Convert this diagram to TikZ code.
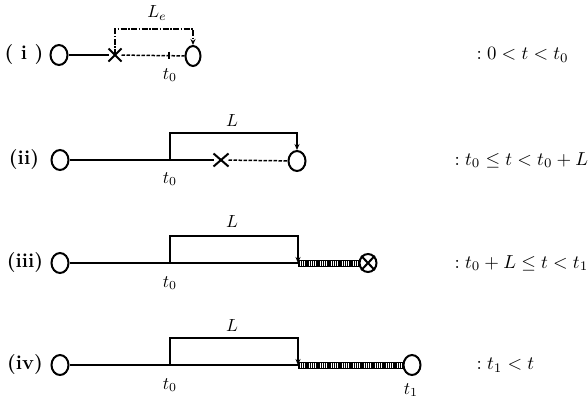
\documentclass[tikz,border=0pt]{standalone}
\usepackage{amsmath,amssymb}
\usetikzlibrary{arrows.meta}
\usetikzlibrary{patterns.meta, positioning, shapes.geometric, shapes.misc}

\tikzset{
    dot/.style={ellipse, draw, line width=2pt, minimum width=17pt, minimum height=20pt, inner sep=0pt},
    xmark/.style={cross out, draw, line width=2pt, minimum width=13pt, minimum height=11pt, inner sep=0pt},
    life/.style={line width=2.2pt},
    wait/.style={line width=1.5pt, dash pattern=on 3.5pt off 1.5pt},
    span/.style={line width=1.3pt, -{Stealth[length=6pt,width=5pt]}},
    delay/.style={span, dash pattern=on 6pt off 1.5pt on 1.5pt off 1.5pt},
    service/.style={draw, line width=0.8pt, pattern={Lines[angle=90,distance=2.2pt,line width=1.4pt]}},
    tag/.style={font=\fontsize{20}{22}\selectfont\bfseries},
    lab/.style={scale=1.75, transform shape},
    cond/.style={anchor=west, scale=1.88, transform shape},
}

\begin{document}
\begin{tikzpicture}[x=1pt, y=-1pt]
    \useasboundingbox (0,0) rectangle (588,399);

    % (i)
    \node[tag] (ti) at (24,55) {( i )};
    \node[dot] (si) at (59,55) {};
    \node[xmark, minimum width=11pt, minimum height=11pt] (xi) at (115,55) {};
    \node[dot, minimum width=15pt] (ei) at (193,56) {};
    \coordinate (ki) at (169,55);
    \coordinate (ci) at (115,29);
    \coordinate (di) at (193,29);
    \draw[line width=1.4pt] (si) -- (xi);
    \draw[wait] (xi) -- (ei);
    \draw[line width=1.2pt] ([yshift=3.5pt]ki) -- ([yshift=-3.5pt]ki);
    \draw[delay] (xi.center) -- (ci) -- (di) -- (ei.north);
    \node[lab] at (157,13) {$L_e$};
    \node[lab] at (170,75) {$t_0$};
    \node[cond] at (470,55) {$:0<t<t_0$};

    % (ii)
    \node[tag] (tii) at (24,160) {(ii)};
    \node[dot] (sii) at (60,160) {};
    \node[xmark] (xii) at (221,160) {};
    \node[dot] (eii) at (297,161) {};
    \coordinate (kii) at (170,160);
    \coordinate (cii) at (170,133);
    \coordinate (dii) at (297,133);
    \draw[life] (sii) -- (xii);
    \draw[wait] (xii) -- (eii);
    \draw[span] (kii) -- (cii) -- (dii) -- (eii.north);
    \node[lab] at (232,121) {$L$};
    \node[lab] at (170,179) {$t_0$};
    \node[cond] at (448,160) {$:t_0\leq t<t_0+L$};

    % (iii)
    \node[tag] (tiii) at (25,263) {(iii)};
    \node[dot] (siii) at (60,263) {};
    \node[dot, minimum width=17pt, minimum height=18pt] (eiii) at (368,263) {};
    \draw[line width=2pt] (eiii.north east) -- (eiii.south west)
        (eiii.north west) -- (eiii.south east);
    \coordinate (kiii) at (170,263);
    \coordinate (ciii) at (170,236);
    \coordinate (diii) at (298,236);
    \coordinate (fiii) at (298,263);
    \draw[life] (siii) -- (fiii);
    \draw[span] (kiii) -- (ciii) -- (diii) -- (fiii);
    \draw[service] ([yshift=-3pt]fiii) rectangle ([yshift=3pt]eiii.west);
    \node[lab] at (232,222) {$L$};
    \node[lab] at (170,283) {$t_0$};
    \node[cond] at (448,263) {$:t_0+L\leq t<t_1$};

    % (iv)
    \node[tag] (tiv) at (25,365) {(iv)};
    \node[dot] (siv) at (60,365) {};
    \node[dot] (eiv) at (412,365) {};
    \coordinate (kiv) at (170,365);
    \coordinate (civ) at (170,338);
    \coordinate (div) at (298,338);
    \coordinate (fiv) at (298,365);
    \draw[life] (siv) -- (fiv);
    \draw[span] (kiv) -- (civ) -- (div) -- (fiv);
    \draw[service] ([yshift=-3pt]fiv) rectangle ([yshift=3pt]eiv.west);
    \node[lab] at (232,326) {$L$};
    \node[lab] at (170,385) {$t_0$};
    \node[lab] at (411,390) {$t_1$};
    \node[cond] at (470,365) {$:t_1<t$};
\end{tikzpicture}
\end{document}
